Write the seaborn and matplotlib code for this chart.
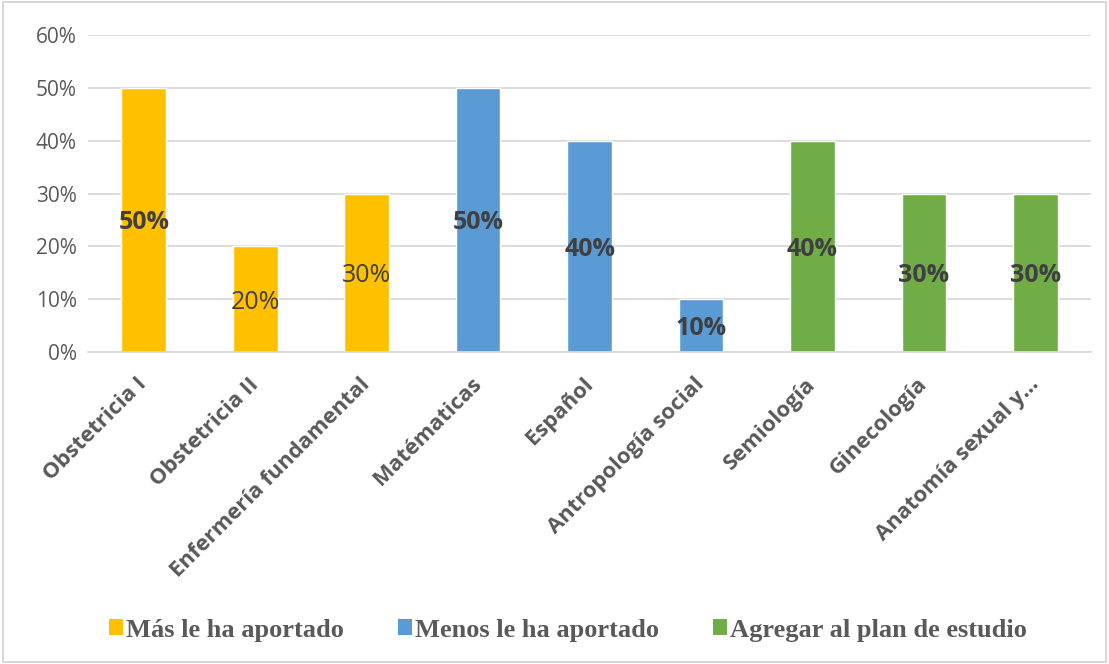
import pandas as pd
import numpy as np
import matplotlib.pyplot as plt
import seaborn as sns
from matplotlib.patches import Patch

sns.set_style('white')
plt.rcParams['font.family'] = ['Open Sans', 'DejaVu Sans']

# datos
materias = ['Obstetricia I', 'Obstetricia II', 'Enfermería fundamental',
            'Matématicas', 'Español', 'Antropología social',
            'Semiología', 'Ginecología', 'Anatomía sexual y…']
porcentajes = [50, 20, 30, 50, 40, 10, 40, 30, 30]
grupos = ['Más le ha aportado'] * 3 + ['Menos le ha aportado'] * 3 + ['Agregar al plan de estudio'] * 3
etiquetas_negrita = [True, False, False, True, True, True, True, True, True]

colores = {'Más le ha aportado': '#FFC000',
           'Menos le ha aportado': '#5B9BD5',
           'Agregar al plan de estudio': '#70AD47'}

df = pd.DataFrame({'materia': materias, 'valor': porcentajes, 'grupo': grupos})

fig = plt.figure(figsize=(11.09, 6.64), dpi=100)
ax = fig.add_axes([0.0794, 0.470, 0.9046, 0.477])

sns.barplot(data=df, x='materia', y='valor', hue='grupo', palette=colores,
            dodge=False, width=0.4, legend=False, ax=ax, saturation=1)

ax.set_ylim(0, 60)
ax.set_yticks(np.arange(0, 61, 10))
ax.set_yticklabels([f'{v}%' for v in range(0, 61, 10)], fontsize=15, color='#595959')
ax.yaxis.grid(True, color='#D9D9D9', linewidth=1.3)
ax.set_axisbelow(True)
ax.set_xlim(-0.5, len(materias) - 0.5)
ax.tick_params(axis='y', length=0, pad=8)
ax.tick_params(axis='x', length=0, pad=21)
ax.set_xticks(range(len(materias)))
ax.set_xticklabels(materias, rotation=45, ha='right', va='center', rotation_mode='anchor',
                   fontsize=15.8, fontweight='bold', color='#595959')
ax.set_xlabel('')
ax.set_ylabel('')
for s in ['top', 'right', 'left']:
    ax.spines[s].set_visible(False)
ax.spines['bottom'].set_color('#D9D9D9')
ax.spines['bottom'].set_linewidth(1.3)

for i, (v, b) in enumerate(zip(porcentajes, etiquetas_negrita)):
    ax.text(i, v / 2, f'{v}%', ha='center', va='center_baseline', fontsize=18,
            fontweight='bold' if b else 'normal', color='#404040')

handles = [Patch(facecolor=colores[g], edgecolor='none') for g in colores]
fig.legend(handles, list(colores.keys()), loc='center', bbox_to_anchor=(0.512, 0.051),
           ncol=3, frameon=False, handlelength=0.55, handleheight=0.55, handletextpad=0.1,
           columnspacing=2.05,
           prop={'family': 'Liberation Serif', 'weight': 'bold', 'size': 19},
           labelcolor='#595959')

# marco de la figura
fig.patches.append(plt.Rectangle((0.003, 0.003), 0.994, 0.994, transform=fig.transFigure,
                                 fill=False, edgecolor='#D9D9D9', linewidth=1.5))

fig.savefig('out.png', dpi=100)
